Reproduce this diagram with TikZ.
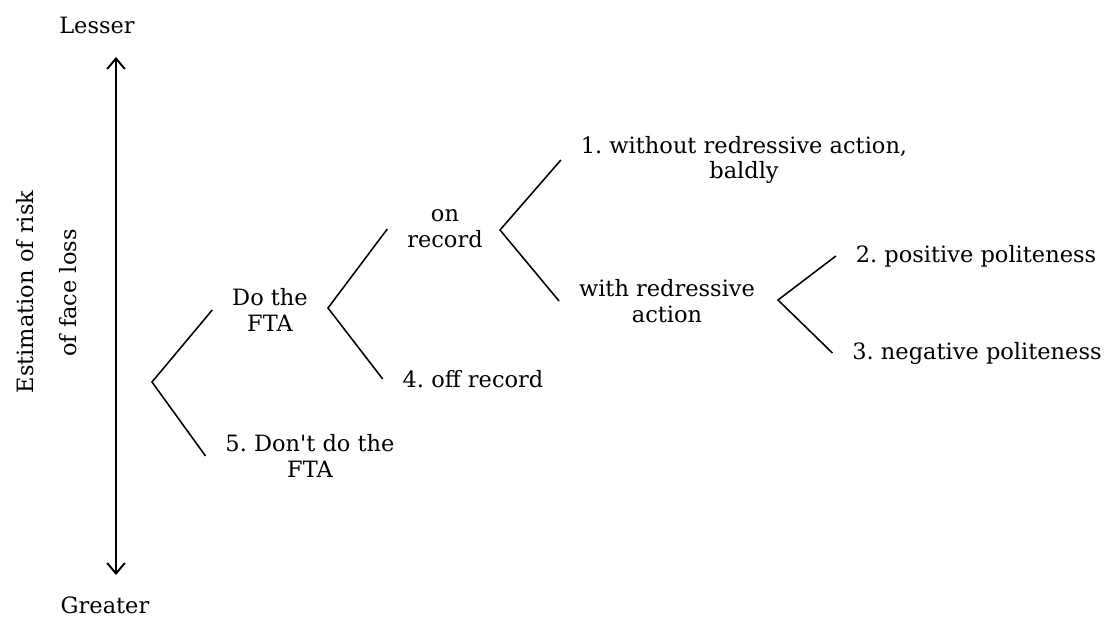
\documentclass[tikz,border=0pt]{standalone}
\usepackage{fontspec}
\setmainfont{DejaVu Serif}
\usepackage{tikz}
\usetikzlibrary{arrows.meta}
\frenchspacing
\newcommand{\branch}[3]{\draw[line width=1.1pt] (#2.west) -- (#1) -- (#3.west)}

\begin{document}
\begin{tikzpicture}[x=0.025cm,y=0.025cm,
    every node/.style={font=\fontsize{16}{18.4}\selectfont,align=center,inner xsep=14pt}]
    \useasboundingbox (0,0) rectangle (1109,619);

    % scale
    \node (lesser) at (97,594) {Lesser};
    \node (greater) at (105,14) {Greater};
    \coordinate (top) at (116,562);
    \coordinate (bottom) at (116,44);
    \draw[line width=1.4pt,{Straight Barb[length=2.6mm,width=4.4mm]}-{Straight Barb[length=2.6mm,width=4.4mm]}] (top) -- (bottom);
    \node[rotate=90] (estim) at (25,327) {Estimation of risk};
    \node[rotate=90] (face) at (68,326) {of face loss};

    % choices
    \node (do) at (270,309) {Do the\\FTA};
    \node (dont) at (310,163) {5. Don\textquotesingle t do the\\FTA};
    \node (onrec) at (445,390) {on\\record};
    \node (offrec) at (473,240) {4. off record};
    \node (bald) at (744,459) {1. without redressive action,\\baldly};
    \node (withred) at (667,318) {with redressive\\action};
    \node (pos) at (976,363) {2. positive politeness};
    \node (neg) at (977,266) {3. negative politeness};

    \coordinate (v1) at (152,237);
    \coordinate (v2) at (328,311);
    \coordinate (v3) at (500,389);
    \coordinate (v4) at (778,319);

    \branch{v1}{do}{dont};
    \branch{v2}{onrec}{offrec};
    \branch{v3}{bald}{withred};
    \branch{v4}{pos}{neg};
\end{tikzpicture}
\end{document}
